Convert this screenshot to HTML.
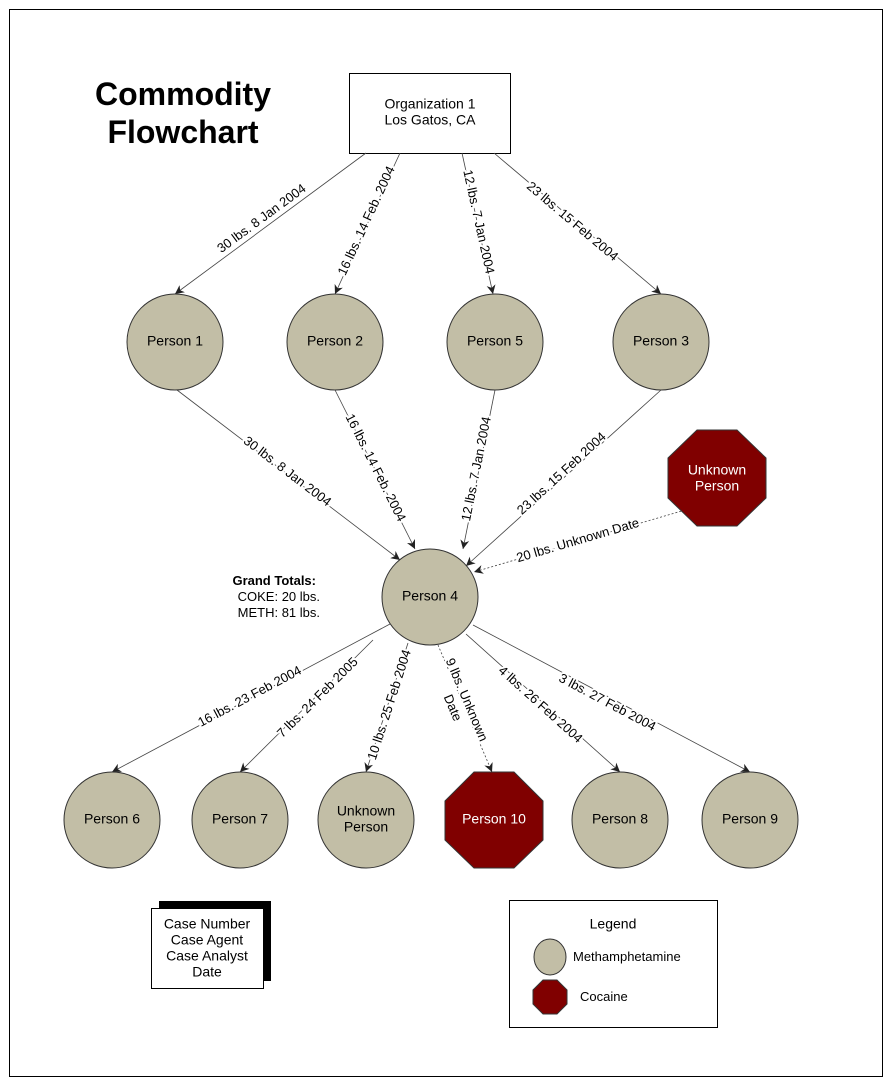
<!DOCTYPE html>
<html><head><meta charset="utf-8"><style>
html,body{margin:0;padding:0;background:#fff;}
svg{display:block;font-family:"Liberation Sans",Arial,sans-serif;}
.l{font-size:13px;fill:#000;text-anchor:middle;dominant-baseline:middle;stroke:#fff;stroke-width:4px;paint-order:stroke;stroke-linejoin:round;}
.n{font-size:14px;text-anchor:middle;dominant-baseline:middle;}
.e{stroke:#444;stroke-width:0.8;fill:none;marker-end:url(#a);}
.d{stroke-dasharray:2,2;}
.c{fill:#c2bea6;stroke:#333;stroke-width:1;}
.o{fill:#800000;stroke:#333;stroke-width:1;}
</style></head><body>
<svg width="892" height="1083" viewBox="0 0 892 1083">
<defs><marker id="a" viewBox="0 0 10 10" refX="10" refY="5" markerWidth="9" markerHeight="9" orient="auto" markerUnits="userSpaceOnUse"><path d="M0,0 L10,5 L0,10 L3,5 z" fill="#222"/></marker></defs>
<rect x="9.5" y="9.5" width="873" height="1067" fill="#fff" stroke="#000"/>
<text x="183" y="105" font-size="32" font-weight="bold" text-anchor="middle">Commodity</text>
<text x="183" y="143" font-size="32" font-weight="bold" text-anchor="middle">Flowchart</text>
<rect x="349.5" y="73.5" width="161" height="80" fill="#fff" stroke="#000"/>
<text x="430" y="105" class="n" font-size="13">Organization 1</text>
<text x="430" y="121" class="n" font-size="13">Los Gatos, CA</text>

<line class="e" x1="366" y1="153" x2="175" y2="294"/>
<line class="e" x1="400" y1="153" x2="335" y2="294"/>
<line class="e" x1="462" y1="153" x2="493" y2="294"/>
<line class="e" x1="494" y1="153" x2="661" y2="294"/>
<line class="e" x1="177" y1="390" x2="400" y2="560"/>
<line class="e" x1="335" y1="390" x2="415" y2="549"/>
<line class="e" x1="495" y1="390" x2="463" y2="549"/>
<line class="e" x1="661" y1="390" x2="466" y2="566"/>
<line class="e d" x1="685" y1="510" x2="474" y2="572"/>
<line class="e" x1="390" y1="624" x2="112" y2="772"/>
<line class="e" x1="373" y1="640" x2="240" y2="772"/>
<line class="e" x1="408" y1="643" x2="366" y2="772"/>
<line class="e d" x1="438" y1="645" x2="492" y2="772"/>
<line class="e" x1="466" y1="634" x2="620" y2="772"/>
<line class="e" x1="473" y1="625" x2="750" y2="772"/>

<text class="l" transform="translate(262,219) rotate(-36.4)">30 lbs. 8 Jan 2004</text>
<text class="l" transform="translate(367,221) rotate(-65.2)">16 lbs. 14 Feb. 2004</text>
<text class="l" transform="translate(478,222) rotate(77.6)">12 lbs. 7 Jan 2004</text>
<text class="l" transform="translate(572,222) rotate(40.2)">23 lbs. 15 Feb 2004</text>
<text class="l" transform="translate(287,472) rotate(37.3)">30 lbs. 8 Jan 2004</text>
<text class="l" transform="translate(375,468) rotate(63.3)">16 lbs. 14 Feb. 2004</text>
<text class="l" transform="translate(477,469) rotate(-78.6)">12 lbs. 7 Jan 2004</text>
<text class="l" transform="translate(562,474) rotate(-42.4)">23 lbs. 15 Feb 2004</text>
<text class="l" transform="translate(578,541) rotate(-16.4)">20 lbs. Unknown Date</text>
<text class="l" transform="translate(250,697) rotate(-28)">16 lbs. 23 Feb 2004</text>
<text class="l" transform="translate(318,698) rotate(-44.8)">7 lbs. 24 Feb 2005</text>
<text class="l" transform="translate(390,705) rotate(-72)">10 lbs. 25 Feb 2004</text>
<text class="l" transform="translate(466,700) rotate(67)">9 lbs. Unknown</text>
<text class="l" transform="translate(452,708) rotate(67)">Date</text>
<text class="l" transform="translate(540,705) rotate(41.9)">4 lbs. 26 Feb 2004</text>
<text class="l" transform="translate(607,703) rotate(28)">3 lbs. 27 Feb 2004</text>

<circle class="c" cx="175" cy="342" r="48"/><text class="n" x="175" y="342">Person 1</text>
<circle class="c" cx="335" cy="342" r="48"/><text class="n" x="335" y="342">Person 2</text>
<circle class="c" cx="495" cy="342" r="48"/><text class="n" x="495" y="342">Person 5</text>
<circle class="c" cx="661" cy="342" r="48"/><text class="n" x="661" y="342">Person 3</text>
<polygon class="o" points="697,430 737,430 766,458 766,498 737,526 697,526 668,498 668,458"/>
<text class="n" x="717" y="471" fill="#fff" font-size="13">Unknown</text><text class="n" x="717" y="487" fill="#fff" font-size="13">Person</text>
<circle class="c" cx="430" cy="597" r="48"/><text class="n" x="430" y="597">Person 4</text>
<text x="316" y="585" font-size="13" font-weight="bold" text-anchor="end">Grand Totals:</text>
<text x="320" y="601" font-size="13" text-anchor="end">COKE: 20 lbs.</text>
<text x="320" y="617" font-size="13" text-anchor="end">METH: 81 lbs.</text>

<circle class="c" cx="112" cy="820" r="48"/><text class="n" x="112" y="820">Person 6</text>
<circle class="c" cx="240" cy="820" r="48"/><text class="n" x="240" y="820">Person 7</text>
<circle class="c" cx="366" cy="820" r="48"/><text class="n" x="366" y="812">Unknown</text><text class="n" x="366" y="828">Person</text>
<polygon class="o" points="474,772 514,772 543,801 543,840 514,868 474,868 445,840 445,801"/>
<text class="n" x="494" y="820" fill="#fff">Person 10</text>
<circle class="c" cx="620" cy="820" r="48"/><text class="n" x="620" y="820">Person 8</text>
<circle class="c" cx="750" cy="820" r="48"/><text class="n" x="750" y="820">Person 9</text>

<rect x="159" y="901" width="112" height="80" fill="#000"/>
<rect x="151.5" y="908.5" width="112" height="80" fill="#fff" stroke="#000"/>
<text class="n" x="207" y="925" font-size="13">Case Number</text>
<text class="n" x="207" y="941" font-size="13">Case Agent</text>
<text class="n" x="207" y="957" font-size="13">Case Analyst</text>
<text class="n" x="207" y="973" font-size="13">Date</text>

<rect x="509.5" y="900.5" width="208" height="127" fill="#fff" stroke="#000"/>
<text class="n" x="613" y="925" font-size="13">Legend</text>
<ellipse class="c" cx="550" cy="957" rx="16" ry="18"/>
<text x="573" y="961" font-size="13">Methamphetamine</text>
<polygon class="o" points="543,980 557,980 567,990 567,1004 557,1014 543,1014 533,1004 533,990"/>
<text x="580" y="1001" font-size="13">Cocaine</text>
</svg>
</body></html>
